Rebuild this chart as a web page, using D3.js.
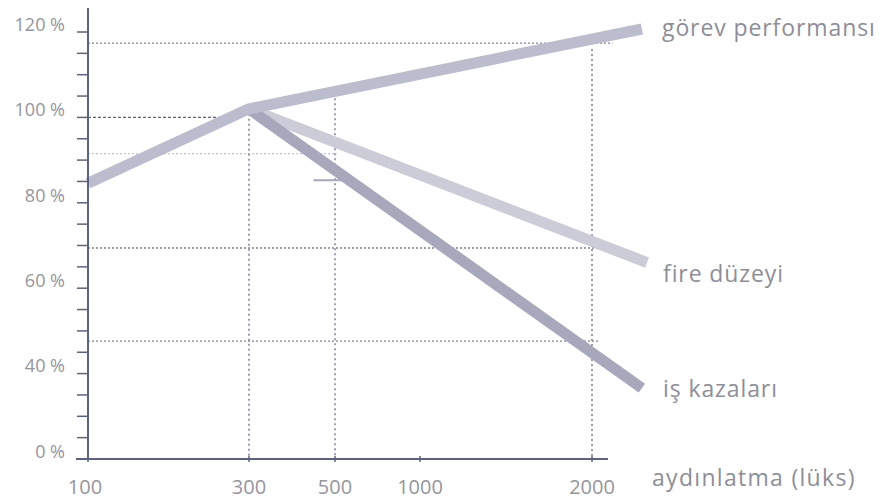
<!DOCTYPE html>
<html><head><meta charset="utf-8">
<script src="https://cdn.jsdelivr.net/npm/d3@7"></script>
<style>body{margin:0;background:#fff}svg{display:block}</style>
</head><body>
<svg id="chart" width="880" height="503"></svg>
<script>
// ---- data ----
const xTicks = [100, 300, 500, 1000, 2000];
const xTickLabels = ["100", "300", "500", "1000", "2000"];
const yTickValues = [20, 40, 60, 80, 100, 120];
const yTickLabels = ["0 %", "40 %", "60 %", "80 %", "100 %", "120 %"];
const yMinorTicks = [20,25,30,35,40,45,50,55,60,65,70,75,80,85,90,95,100,105,110,115,120];

const seriesNames = ["görev performansı", "fire düzeyi", "iş kazaları"];
const gorevX = [100, 300, 2290];
const gorevY = [84.6, 102, 120.7];
const fireX = [300, 2320];
const fireY = [102, 66];
const isX = [300, 2290];
const isY = [102, 36.6];

// reference (dotted) lines
const hRefValues = [117.4, 100, 91.5, 69.4, 47.6];
const hRefEnds   = [2120, 270, 510, 2070, 2040];
const vRefValues = [300, 500, 2000];
const vRefTops   = [102, 104.5, 116];
const xAxisTitle = "aydınlatma (lüks)";

// ---- layout ----
const svg = d3.select("#chart");
const x = d3.scaleLinear().domain(xTicks).range([88, 249, 335, 420, 592]);
const y = d3.scaleLinear().domain([20, 120]).range([459, 32]);
const font = "'Open Sans', 'Noto Sans', sans-serif";
const txt = "#8e8e98";

// reference lines
hRefValues.forEach((v, i) => {
  svg.append("line")
    .attr("x1", x(100)).attr("x2", x(hRefEnds[i]))
    .attr("y1", y(v)).attr("y2", y(v))
    .attr("stroke", i === 1 ? "#4c5070" : "#72768f")
    .attr("stroke-width", i === 2 ? 1 : 1.4)
    .attr("stroke-opacity", i === 2 ? 0.5 : 0.9)
    .attr("stroke-dasharray", i === 1 ? "3,2" : "2,2");
});
vRefValues.forEach((v, i) => {
  svg.append("line")
    .attr("x1", x(v)).attr("x2", x(v))
    .attr("y1", y(vRefTops[i])).attr("y2", y(20))
    .attr("stroke", "#72768f").attr("stroke-width", 1.4)
    .attr("stroke-dasharray", "2,3");
});

// series lines
const line = d3.line().x(d => x(d[0])).y(d => y(d[1]));
const series = [
  {x: fireX, y: fireY, color: "#cbccd8"},
  {x: isX, y: isY, color: "#a7a8bb"},
  {x: gorevX, y: gorevY, color: "#bbbccd"}
];
series.forEach(s => {
  svg.append("path")
    .datum(s.x.map((v, i) => [v, s.y[i]]))
    .attr("d", line)
    .attr("fill", "none")
    .attr("stroke", s.color)
    .attr("stroke-width", 11)
    .attr("stroke-linecap", "butt")
    .attr("stroke-linejoin", "round");
});
// small mark on iş kazaları at 500
svg.append("line")
  .attr("x1", x(450)).attr("x2", x(560))
  .attr("y1", y(85.3)).attr("y2", y(85.3))
  .attr("stroke", "#a7a8bb").attr("stroke-width", 2);

// y axis
svg.append("line").attr("x1", x(100)).attr("x2", x(100))
  .attr("y1", 8).attr("y2", y(20))
  .attr("stroke", "#5e6282").attr("stroke-width", 2);
yMinorTicks.forEach(v => {
  svg.append("line").attr("x1", x(100) - 11).attr("x2", x(100))
    .attr("y1", y(v)).attr("y2", y(v))
    .attr("stroke", "#5e6282").attr("stroke-width", 1.5);
});
yTickValues.forEach((v, i) => {
  svg.append("text").attr("x", 65).attr("y", y(v) - 6)
    .attr("text-anchor", "end").attr("dominant-baseline", "middle")
    .attr("font-family", font).attr("font-size", 18)
    .attr("fill", "#95959d").text(yTickLabels[i]);
});

// x axis
svg.append("line").attr("x1", 76).attr("x2", 608)
  .attr("y1", y(20)).attr("y2", y(20))
  .attr("stroke", "#5e6282").attr("stroke-width", 2);
xTicks.forEach((v, i) => {
  svg.append("line").attr("x1", x(v)).attr("x2", x(v))
    .attr("y1", y(20) - 3).attr("y2", y(20) + 3)
    .attr("stroke", "#5e6282").attr("stroke-width", 1.5);
  svg.append("text").attr("x", x(v) - (i === 0 ? 3 : 0)).attr("y", 494)
    .attr("text-anchor", "middle")
    .attr("font-family", font).attr("font-size", 20)
    .attr("fill", "#95959d").text(xTickLabels[i]);
});
svg.append("text").attr("x", 652).attr("y", 486)
  .attr("font-family", font).attr("font-size", 23)
  .attr("letter-spacing", 1.3)
  .attr("fill", txt).text(xAxisTitle);

// series labels
const labelPos = [[662, 36], [663, 282], [663, 397]];
seriesNames.forEach((n, i) => {
  svg.append("text").attr("x", labelPos[i][0]).attr("y", labelPos[i][1])
    .attr("font-family", font).attr("font-size", 23)
    .attr("letter-spacing", 0.9)
    .attr("fill", txt).text(n);
});
</script>
</body></html>
